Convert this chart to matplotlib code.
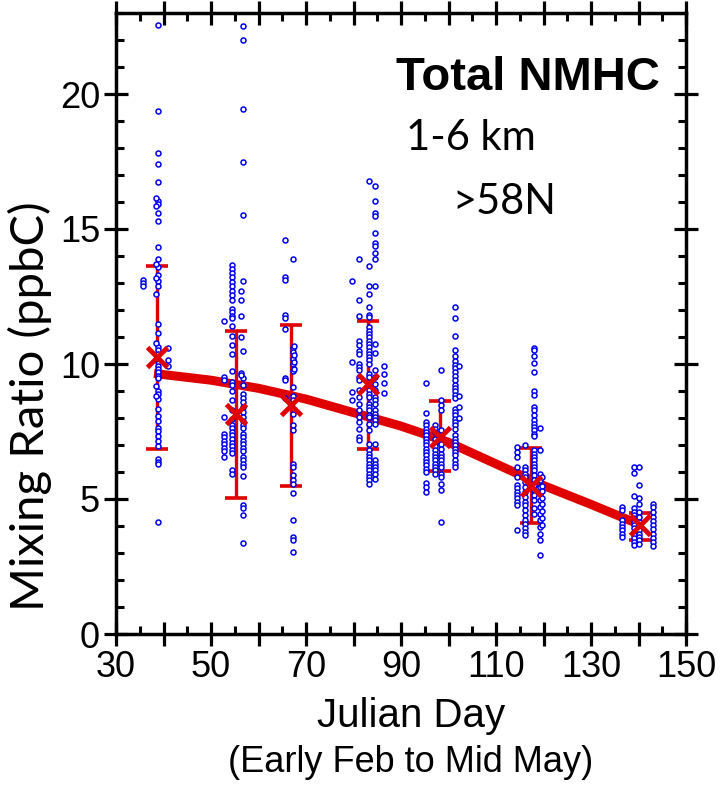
import matplotlib.pyplot as plt
from matplotlib.ticker import MultipleLocator

# sample points for each deployment: {julian day: [mixing ratio, ppbC]}
dep1 = {38.8: [22.57, 19.38, 17.82, 17.42, 16.74, 16.04, 15.94, 15.59, 15.29, 14.34, 13.88, 13.59,
               13.29, 13.07, 12.88, 11.47, 11.13, 10.63, 10.51, 10.38, 10.07, 9.94, 9.82, 9.70,
               9.57, 9.47, 9.01, 8.88, 8.70, 8.32, 8.07, 7.88, 7.63, 7.51, 7.32, 7.13, 6.95,
               6.47, 6.38, 6.28, 4.13],
        38.5: [16.16, 15.84, 13.70, 13.19, 12.60, 10.76, 10.20, 9.19, 8.82],
        35.6: [13.11, 13.0, 12.88],
        40.9: [10.59, 10.13, 9.92]}
dep2 = {56.7: [22.51, 22.01, 19.44, 17.48, 15.52, 13.06, 10.50, 9.47, 9.21, 8.88, 8.74, 8.61,
               8.41, 8.21, 8.02, 7.89, 7.75, 7.62, 7.42, 7.29, 7.16, 7.03, 6.89, 6.76, 6.57,
               6.43, 6.30, 6.17, 5.84, 4.78, 4.65, 4.41, 3.36],
        56.3: [12.70, 12.37, 11.78, 10.99, 9.67, 9.60],
        54.4: [13.67, 13.53, 13.36, 13.23, 13.03, 12.88, 12.70, 12.57, 12.37, 12.04, 11.91, 11.78,
               11.69, 11.42, 11.05, 10.70, 10.37, 9.73, 9.34, 9.21, 9.01, 8.68, 8.28, 7.95, 7.75,
               7.62, 7.49, 7.36, 7.22, 7.09, 6.96, 6.83, 6.70, 6.06, 5.93],
        52.8: [11.61, 9.53, 9.40, 8.02, 7.42, 7.29, 7.16, 7.03, 6.89, 6.76, 6.57]}
dep3 = {65.6: [14.58, 13.23, 13.10, 11.82, 11.69, 11.28, 9.47, 9.40, 8.74],
        67.2: [13.89, 10.59, 10.46, 10.20, 10.00, 9.73, 9.14, 8.81, 8.68, 8.15, 7.75, 7.56, 6.30,
               6.17, 5.90, 5.71, 5.57, 5.21, 4.21, 3.59, 3.50, 3.03],
        67.5: [10.65, 10.33, 10.07, 9.80]}
dep4 = {83.3: [16.76, 13.62, 12.88, 12.59, 12.10, 11.83, 11.73, 11.36, 11.24, 11.12, 10.99, 10.87,
               10.75, 10.62, 10.50, 10.38, 10.25, 10.13, 10.01, 9.64, 9.51, 9.27, 9.02, 8.90,
               8.77, 8.53, 8.40, 8.28, 8.10, 8.03, 7.79, 7.54, 7.05, 6.80, 6.68, 6.55, 6.43,
               6.31, 6.18, 6.06, 5.94, 5.81, 5.69, 5.57],
        84.5: [16.60, 16.02, 15.58, 15.49, 14.85, 14.47, 14.38, 14.11, 13.89, 12.88, 10.75, 10.40,
               9.76, 9.51, 9.27, 9.02, 8.77, 8.65, 8.53, 8.28, 8.15, 8.03, 7.91, 7.79, 7.05,
               6.43, 6.31, 6.18, 6.06, 5.94, 5.75],
        81.2: [13.89, 12.38, 11.77, 10.87, 10.69, 10.50, 10.38, 10.01, 9.88, 9.76, 9.51, 9.39,
               9.02, 8.77, 8.53, 8.28, 8.03, 7.85, 7.60, 7.29, 7.17],
        79.6: [13.06, 10.09, 8.96, 8.65],
        86.4: [9.92, 9.64, 9.30, 8.92]}
dep5 = {101.4: [12.10, 11.71, 11.03, 10.52, 10.31, 10.10, 9.98, 9.86, 9.70, 9.54, 9.39, 9.24,
                9.12, 9.00, 8.87, 8.75, 8.34, 8.22, 8.10, 7.97, 7.85, 7.73, 7.60, 7.36, 7.23,
                7.11, 6.99, 6.86, 6.74, 6.62, 6.43, 6.31, 6.18],
        102.3: [9.91, 8.80, 8.40, 8.01],
        98.4: [9.76, 8.65, 8.47, 8.31, 7.54, 7.29, 7.05, 6.86, 6.68, 6.55, 6.43, 6.31, 6.18,
               5.94, 5.82, 5.57, 5.32, 4.15],
        97.2: [7.73, 7.60, 7.49, 7.23, 7.05, 6.96, 6.80, 6.68, 6.55, 6.43, 6.31, 6.18, 6.06, 5.94],
        95.3: [9.30, 8.18, 7.85, 7.73, 7.60, 7.48, 7.36, 7.23, 7.11, 6.99, 6.86, 6.74, 6.62,
               6.49, 6.37, 6.25, 6.12, 6.00, 5.59, 5.45, 5.26]}
dep6 = {118.1: [10.59, 10.52, 10.31, 10.03, 9.70, 9.00, 8.87, 8.40, 8.28, 8.10, 7.91, 7.76,
                7.66, 7.54, 7.42, 7.32],
        117.9: [6.80, 6.68, 6.55, 6.43, 6.31, 6.18, 6.06, 5.88, 5.69, 5.51, 5.32, 5.14, 4.95,
                4.65, 4.46],
        119.3: [7.63, 6.80, 5.94, 5.69, 5.45, 5.20, 4.95, 4.71, 4.46, 4.21, 3.97, 3.72, 3.48, 2.92],
        119.6: [5.80, 5.50, 5.30, 5.05, 4.80, 4.55, 4.30, 4.05],
        114.4: [6.92, 6.74, 6.55, 6.18, 5.82, 5.51, 5.39, 5.26, 5.14, 5.02, 4.89, 4.77, 3.87],
        116.1: [6.99, 6.18, 6.06, 5.94, 5.82, 5.63, 5.45, 5.26, 5.08, 4.89, 4.77, 4.58, 4.40,
                4.21, 4.07, 3.91, 3.78, 3.66]}
dep7 = {139.1: [6.19, 5.98, 5.10, 4.65, 4.52, 4.40, 4.28, 4.15, 4.03, 3.91, 3.78, 3.66, 3.54,
                3.41, 3.29],
        140.2: [6.19, 5.51, 5.04, 4.83, 4.52, 4.34, 4.15, 4.03, 3.84, 3.72, 3.60, 3.48, 3.35],
        136.5: [4.71, 4.58, 4.21, 4.09, 3.97, 3.84, 3.72, 3.60],
        143.1: [4.83, 4.71, 4.52, 4.34, 4.19, 4.03, 3.88, 3.72, 3.57, 3.41, 3.25]}

# deployment means and the range bars
mean_day = [38.6, 55.3, 66.9, 83.0, 98.3, 117.3, 140.3]
mean_val = [10.25, 8.16, 8.47, 9.27, 7.30, 5.48, 4.03]
bar_top = [13.64, 11.24, 11.45, 11.60, 8.62, 6.90, 4.47]
bar_bot = [6.85, 5.05, 5.50, 6.85, 6.02, 4.12, 3.50]

# fitted seasonal trend
trend_day = [38, 50, 60, 70, 80, 90, 100, 110, 120, 130, 141]
trend_val = [9.65, 9.4, 9.1, 8.7, 8.2, 7.7, 7.1, 6.3, 5.5, 4.8, 4.0]

RED = '#e10000'
BLUE = '#0000ee'
arial = ['Liberation Sans', 'DejaVu Sans']
calibri = ['Lato', 'DejaVu Sans']

fig = plt.figure(figsize=(7.21, 7.85), dpi=100)
ax = fig.add_axes([116 / 721, 151 / 785, 570 / 721, 621 / 785])

ax.plot(trend_day, trend_val, color=RED, lw=6.5, solid_capstyle='butt', zorder=2)

lo = [m - b for m, b in zip(mean_val, bar_bot)]
hi = [t - m for m, t in zip(mean_val, bar_top)]
ax.errorbar(mean_day, mean_val, yerr=[lo, hi], fmt='none', ecolor=RED, elinewidth=2.4,
            capsize=8, capthick=2.6, zorder=3)

for dep in [dep1, dep2, dep3, dep4, dep5, dep6, dep7]:
    for day, vals in dep.items():
        ax.plot([day] * len(vals), vals, 'o', ms=3.6, mfc='white', mec=BLUE, mew=1.1,
                ls='none', zorder=4)

ax.plot(mean_day, mean_val, 'x', color=RED, ms=15, mew=3.5, ls='none', zorder=5)

ax.set_xlim(30, 150)
ax.set_ylim(0, 23)
ax.xaxis.set_minor_locator(MultipleLocator(5))
ax.yaxis.set_major_locator(MultipleLocator(5))
ax.yaxis.set_minor_locator(MultipleLocator(1))
ax.set_xticks(range(30, 151, 10))
ax.set_xticklabels([str(d) if d % 20 == 10 else '' for d in range(30, 151, 10)])
ax.tick_params(which='major', direction='inout', length=17, width=2.3, top=True, right=True,
               labelsize=26, pad=3)
ax.tick_params(which='minor', direction='in', length=6, width=2.2, top=True, right=True)
for lab in ax.get_xticklabels() + ax.get_yticklabels():
    lab.set_family(arial)
for sp in ax.spines.values():
    sp.set_linewidth(2.5)

ax.text(89.0, 20.15, 'Total NMHC', fontsize=34, fontweight='bold', family=arial)
ax.text(91.1, 17.92, '1-6 km', fontsize=30, family=calibri)
ax.text(100.9, 15.55, '>58N', fontsize=30, family=calibri)

fig.text(0.042, 0.482, 'Mixing Ratio (ppbC)', rotation=90, ha='center', va='center',
         fontsize=34, family=calibri)
fig.text(0.57, 0.088, 'Julian Day', ha='center', va='center', fontsize=29, family=arial)
fig.text(0.57, 0.029, '(Early Feb to Mid May)', ha='center', va='center', fontsize=26,
         family=arial)

fig.savefig('out.png', dpi=100)
